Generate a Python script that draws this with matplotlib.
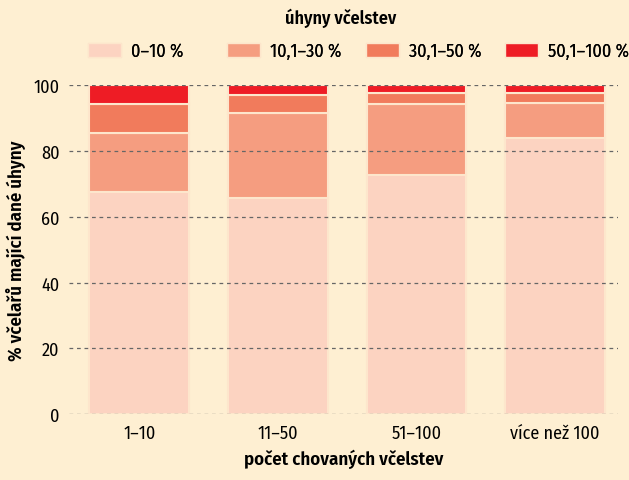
import numpy as np
import matplotlib
matplotlib.use('Agg')
import matplotlib.pyplot as plt
from matplotlib.patches import Patch

plt.rcParams['font.family'] = ['Fira Sans Condensed', 'DejaVu Sans']

# skupiny podle poctu chovanych vcelstev
categories = ['1–10', '11–50', '51–100', 'více než 100']
series_labels = ['0–10 %', '10,1–30 %', '30,1–50 %', '50,1–100 %']

# % vcelaru v jednotlivych kategoriich uhynu
s_0_10 = [67.5, 65.7, 72.6, 83.9]
s_10_30 = [17.8, 25.8, 21.7, 10.6]
s_30_50 = [8.9, 5.5, 3.4, 3.1]
s_50_100 = [5.8, 3.0, 2.3, 2.4]

colors = ['#fcd3c1', '#f59d80', '#f17b5c', '#ee1c25']
bg = '#feefd2'
edge = '#fde6cc'

fig = plt.figure(figsize=(6.29, 4.81), dpi=100, facecolor=bg)
ax = fig.add_axes([0.110, 0.137, 0.873, 0.684], facecolor=bg)

x = np.arange(len(categories))
bottom = np.zeros(len(categories))
for vals, col in zip([s_0_10, s_10_30, s_30_50, s_50_100], colors):
    ax.bar(x, vals, 0.72, bottom=bottom, color=col, edgecolor=edge, linewidth=1.5)
    bottom += np.array(vals)

ax.set_xlim(-0.505, 3.455)
ax.set_ylim(0, 100)
ax.set_yticks([0, 20, 40, 60, 80, 100])
ax.set_xticks(x)
ax.set_xticklabels(categories, fontsize=13)
ax.tick_params(axis='y', labelsize=13, length=0, pad=7)
ax.tick_params(axis='x', length=0, pad=7)
for s in ax.spines.values():
    s.set_visible(False)
ax.set_axisbelow(False)
ax.yaxis.grid(True, color='#666666', linestyle=(0, (3, 3)), linewidth=0.9)

ax.set_xlabel('počet chovaných včelstev', fontsize=13.5, fontweight='semibold', labelpad=5)
ax.set_ylabel('% včelařů mající dané úhyny', fontsize=13.5, fontweight='semibold', labelpad=5)

# legenda - kazda polozka zvlast, nad sloupci
leg_x = [88, 227, 366, 505]
for lx, lab, col in zip(leg_x, series_labels, colors):
    leg = fig.legend([Patch(facecolor=col, edgecolor=edge)], [lab], loc='center left',
                     bbox_to_anchor=(lx / 629, 1 - 52 / 481), frameon=False, fontsize=13,
                     handlelength=1.8, handleheight=0.85, handletextpad=0.6, borderpad=0,
                     borderaxespad=0)
    fig.add_artist(leg)
fig.text(341 / 629, 1 - 18 / 481, 'úhyny včelstev', ha='center', va='center',
         fontsize=13, fontweight='semibold')

plt.savefig('out.png', dpi=100, facecolor=bg)
